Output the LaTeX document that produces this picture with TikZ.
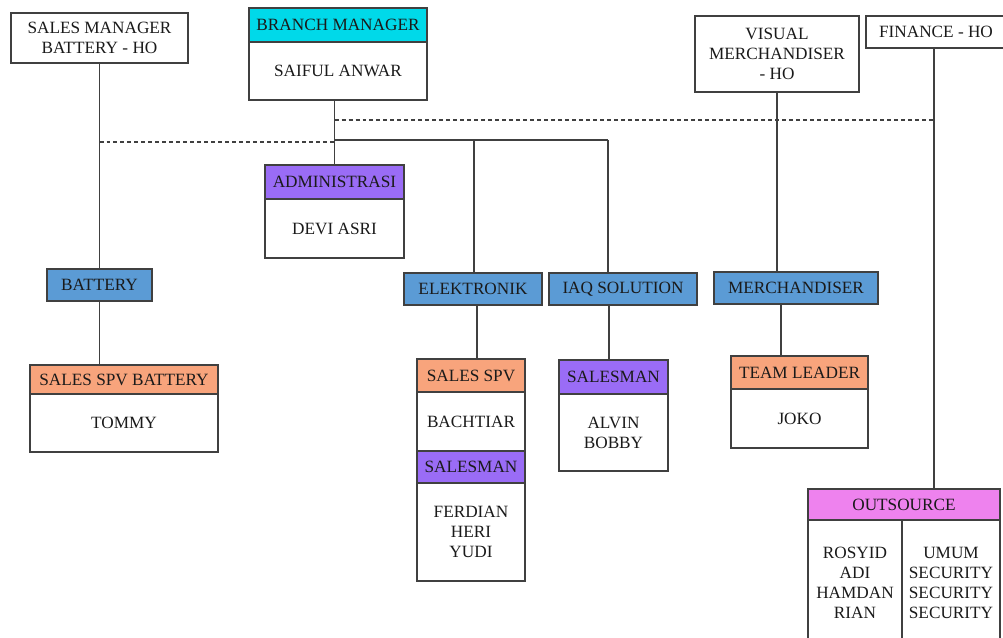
\documentclass[tikz,border=0pt]{standalone}
\usepackage{fontspec}
\setmainfont{Liberation Serif}
\newfontfamily\orgfont{Liberation Serif}
\usepackage{xcolor}
\definecolor{orgcyan}{HTML}{00D9E9}
\definecolor{orgpurple}{HTML}{9A6CF6}
\definecolor{orgblue}{HTML}{5B9BD5}
\definecolor{orgorange}{HTML}{F8A47C}
\definecolor{orgpink}{HTML}{EE82EE}
\definecolor{orgline}{HTML}{404040}
\definecolor{orgtext}{HTML}{1A1A1A}
\usepackage{tikz}
\usetikzlibrary{positioning, calc}
\tikzset{
  obox/.style ={rectangle, draw=orgline, line width=0.8pt, fill=white, text=orgtext, align=center,
                inner sep=0pt, font=\orgfont\fontsize{9.8}{11.4}\selectfont},
  ocyan/.style ={obox, fill=orgcyan},
  opurple/.style={obox, fill=orgpurple},
  oblue/.style ={obox, fill=orgblue},
  oorange/.style={obox, fill=orgorange},
  opink/.style ={obox, fill=orgpink},
  conn/.style ={line width=0.65pt, color=orgline},
  dashline/.style={line width=0.65pt, color=orgline, dash pattern=on 0.08cm off 0.06cm},
}

\begin{document}
\begin{tikzpicture}[x=0.02cm, y=-0.02cm]
  \clip (0,0) rectangle (1003,637);
  \fill[white] (0,0) rectangle (1003,637);
  \node[obox, minimum width=3.54cm, minimum height=1.0cm] (smho) at (99.5,38) {SALES MANAGER\\BATTERY - HO};
  \node[ocyan, minimum width=3.56cm, minimum height=0.68cm] (bmH) at (338,25) {BRANCH MANAGER};
  \node[obox, minimum width=3.56cm, minimum height=1.16cm] (bm) at (338,71) {SAIFUL ANWAR};
  \node[obox, minimum width=3.28cm, minimum height=1.52cm] (vm) at (777,54) {VISUAL\\MERCHANDISER\\- HO};
  \node[obox, minimum width=2.8cm, minimum height=0.64cm] (fin) at (936,32) {FINANCE - HO};
  \node[opurple, minimum width=2.78cm, minimum height=0.68cm] (admH) at (334.5,182) {ADMINISTRASI};
  \node[obox, minimum width=2.78cm, minimum height=1.18cm] (adm) at (334.5,228.5) {DEVI ASRI};
  \node[oblue, minimum width=2.1cm, minimum height=0.64cm] (bat) at (99.5,285) {BATTERY};
  \node[oblue, minimum width=2.76cm, minimum height=0.64cm] (elk) at (473,289) {ELEKTRONIK};
  \node[oblue, minimum width=2.96cm, minimum height=0.64cm] (iaq) at (623,289) {IAQ SOLUTION};
  \node[oblue, minimum width=3.28cm, minimum height=0.64cm] (mer) at (796,288) {MERCHANDISER};
  \node[oorange, minimum width=3.76cm, minimum height=0.58cm] (spvbH) at (124,379.5) {SALES SPV BATTERY};
  \node[obox, minimum width=3.76cm, minimum height=1.16cm] (spvb) at (124,423) {TOMMY};
  \node[oorange, minimum width=2.16cm, minimum height=0.66cm] (spvH) at (471,375.5) {SALES SPV};
  \node[obox, minimum width=2.16cm, minimum height=1.18cm] (spv) at (471,421.5) {BACHTIAR};
  \node[opurple, minimum width=2.16cm, minimum height=0.64cm] (slmH) at (471,467) {SALESMAN};
  \node[obox, minimum width=2.16cm, minimum height=1.96cm] (slm) at (471,532) {FERDIAN\\HERI\\YUDI};
  \node[opurple, minimum width=2.18cm, minimum height=0.68cm] (iaqsH) at (613.5,377) {SALESMAN};
  \node[obox, minimum width=2.18cm, minimum height=1.54cm] (iaqs) at (613.5,432.5) {ALVIN\\BOBBY};
  \node[oorange, minimum width=2.74cm, minimum height=0.66cm] (tlH) at (799.5,372.5) {TEAM LEADER};
  \node[obox, minimum width=2.74cm, minimum height=1.18cm] (tl) at (799.5,418.5) {JOKO};
  \node[opink, minimum width=3.84cm, minimum height=0.62cm] (outH) at (904,504.5) {OUTSOURCE};
  \node[obox, minimum width=1.88cm, minimum height=2.5cm] (outL) at (855,582.5) {ROSYID\\ADI\\HAMDAN\\RIAN};
  \node[obox, minimum width=1.96cm, minimum height=2.5cm] (outR) at (951,582.5) {UMUM\\SECURITY\\SECURITY\\SECURITY};
  \coordinate (dl) at (99.5,142);
  \coordinate (dr) at (934,120);
  \coordinate (busE) at (474,140);
  \coordinate (busI) at (608,140);
  \draw[conn] (smho) -- (bat);
  \draw[conn] (bat.south) -- (bat.south |- spvbH.north);
  \draw[conn] (admH.north |- bm.south) -- (admH.north);
  \draw[dashline] (dl) -- (admH.north |- dl);
  \draw[dashline] (admH.north |- dr) -- (dr);
  \draw[conn] (admH.north |- busE) -- (busI);
  \draw[conn] (busE) -- (busE |- elk.north);
  \draw[conn] (busI) -- (busI |- iaq.north);
  \draw[conn] ($(spvH.north)+(6,0)$) coordinate (e1) -- (e1 |- elk.south);
  \draw[conn] ($(iaqsH.north)+(-4.5,0)$) coordinate (i1) -- (i1 |- iaq.south);
  \draw[conn] (vm.south) -- (vm.south |- mer.north);
  \draw[conn] ($(tlH.north)+(-18.5,0)$) coordinate (t1) -- (t1 |- mer.south);
  \draw[conn] ($(fin.south)+(-2,0)$) coordinate (f1) -- (f1 |- outH.north);
\end{tikzpicture}
\end{document}
